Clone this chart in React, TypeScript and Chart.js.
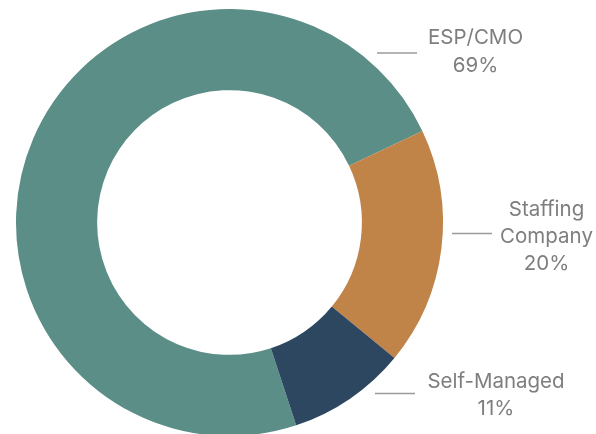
import React, { useEffect, useRef } from "react";
import { Chart, registerables } from "chart.js";

Chart.register(...registerables);

const categories = ["ESP/CMO", "Staffing Company", "Self-Managed"];
const categoryLines = [["ESP/CMO"], ["Staffing", "Company"], ["Self-Managed"]];
const sliceValues = [73, 18, 9];
const percentLabels = ["69%", "20%", "11%"];
const sliceColors = ["#5a8e86", "#c08449", "#2e4760"];

// annotation layout (relative to the doughnut center)
const labelLayout = [
  { lineX1: 147.5, lineX2: 187.5, lineY: -169.5, textX: 246, firstBaseline: -178.5, lineGap: 27.5 },
  { lineX1: 222.5, lineX2: 262.5, lineY: 11, textX: 317, firstBaseline: -6.5, lineGap: 26.8 },
  { lineX1: 145.5, lineX2: 185.5, lineY: 171, textX: 266.5, firstBaseline: 165, lineGap: 27 },
];

const labelPlugin = {
  id: "sideLabels",
  afterDraw(chart: any) {
    const meta = chart.getDatasetMeta(0);
    const arc = meta.data[0];
    if (!arc) return;
    const cx = arc.x;
    const cy = arc.y;
    const ctx = chart.ctx;
    ctx.save();
    categories.forEach((_, i) => {
      const L = labelLayout[i];
      ctx.strokeStyle = "#9b9b9b";
      ctx.lineWidth = 1.5;
      ctx.beginPath();
      ctx.moveTo(cx + L.lineX1, cy + L.lineY);
      ctx.lineTo(cx + L.lineX2, cy + L.lineY);
      ctx.stroke();
      ctx.fillStyle = "#7e7e7e";
      ctx.font = "20.5px Inter";
      ctx.textAlign = "center";
      ctx.textBaseline = "alphabetic";
      const lines = [...categoryLines[i], percentLabels[i]];
      lines.forEach((t, j) => {
        ctx.fillText(t, cx + L.textX, cy + L.firstBaseline + j * L.lineGap);
      });
    });
    ctx.restore();
  },
};

export default function App() {
  const ref = useRef<HTMLCanvasElement>(null);
  useEffect(() => {
    document.documentElement.style.overflow = "hidden";
    document.body.style.margin = "0";
    document.body.style.overflow = "hidden";
    const chart = new Chart(ref.current as HTMLCanvasElement, {
      type: "doughnut",
      data: {
        labels: categories,
        datasets: [
          {
            data: sliceValues,
            backgroundColor: sliceColors,
            borderWidth: 0,
          },
        ],
      },
      options: {
        responsive: false,
        animation: false,
        events: [],
        cutout: "62%",
        rotation: 161.8,
        layout: { padding: { left: 16, top: 9, right: 153, bottom: 10 } },
        plugins: {
          legend: { display: false },
          tooltip: { enabled: false },
        },
      },
      plugins: [labelPlugin],
    });
    return () => chart.destroy();
  }, []);
  return (
    <div style={{ position: "absolute", left: 0, top: 0, width: 596, height: 446, background: "#fff" }}>
      <canvas ref={ref} width={596} height={446} style={{ display: "block" }} />
    </div>
  );
}
